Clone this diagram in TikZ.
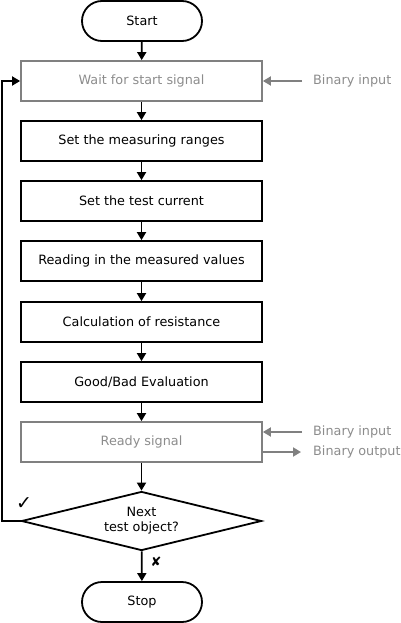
\documentclass[tikz,border=0pt]{standalone}
\usepackage{fontspec}
\setmainfont{DejaVu Sans}
\usetikzlibrary{shapes.geometric,arrows.meta}
\definecolor{grayline}{HTML}{808080}
\definecolor{graytext}{HTML}{8C8C8C}
\begin{document}
\begin{tikzpicture}[x=1pt,y=-1pt,
  font=\fontsize{12.8}{15}\selectfont,
  >={Triangle[length=8pt,width=9pt]},
  flow/.style={line width=1.8pt,->},
  gflow/.style={line width=1.8pt,->,draw=grayline,color=grayline},
  term/.style={draw,line width=1.8pt,rectangle,rounded corners=20pt,minimum width=120pt,minimum height=40pt,inner sep=0pt},
  stepbox/.style={draw,line width=1.8pt,rectangle,minimum width=241pt,minimum height=40pt,inner sep=0pt},
  graybox/.style={stepbox,draw=grayline,text=graytext},
  decision/.style={draw,line width=1.8pt,diamond,aspect=4,minimum width=240pt,minimum height=59pt,inner sep=0pt,align=center},
  sig/.style={text=graytext,anchor=west,inner sep=0pt}
]
\useasboundingbox (0,0) rectangle (400,623);
\node[term] (start) at (142,21) {Start};
\node[graybox] (wait) at (141.5,81) {Wait for start signal};
\node[stepbox] (ranges) at (141.5,141) {Set the measuring ranges};
\node[stepbox] (current) at (141.5,201) {Set the test current};
\node[stepbox] (reading) at (141.5,261) {Reading in the measured values};
\node[stepbox] (calc) at (141.5,322) {Calculation of resistance};
\node[stepbox] (eval) at (141.5,382) {Good/Bad Evaluation};
\node[graybox] (ready) at (141.5,442) {Ready signal};
\node[decision] (dec) at (141.5,521) {Next\\test object?};
\node[term] (stop) at (142,602) {Stop};

\draw[flow] (start) -- (wait);
\draw[flow] (wait) -- (ranges);
\draw[flow] (ranges) -- (current);
\draw[flow] (current) -- (reading);
\draw[flow] (reading) -- (calc);
\draw[flow] (calc) -- (eval);
\draw[flow] (eval) -- (ready);
\draw[flow] (ready) -- (dec);
\draw[flow] (dec) -- (stop);
\node[inner sep=0pt,font=\fontsize{13}{13}\selectfont] (no) at (156,561.5) {✘};
\coordinate (loopc) at (2,521);
\draw[line width=1.8pt,->] (dec.west) -- (loopc) |- (wait.west);
\node[inner sep=0pt,font=\fontsize{19}{19}\selectfont] (yes) at (24,503.5) {✓};

\node[sig] (bin1) at (313,81) {Binary input};
\draw[gflow] (bin1.west) ++(-11,0) coordinate (b1s) -- (wait.east);
\node[sig] (bin2) at (313,432) {Binary input};
\node[sig] (bout) at (313,452) {Binary output};
\coordinate (b2s) at (302,432);
\draw[gflow] (b2s) -- (ready.east |- b2s);
\coordinate (bos) at (ready.east |- bout);
\coordinate (boe) at (301,452);
\draw[gflow] (bos) -- (boe);
\end{tikzpicture}
\end{document}
